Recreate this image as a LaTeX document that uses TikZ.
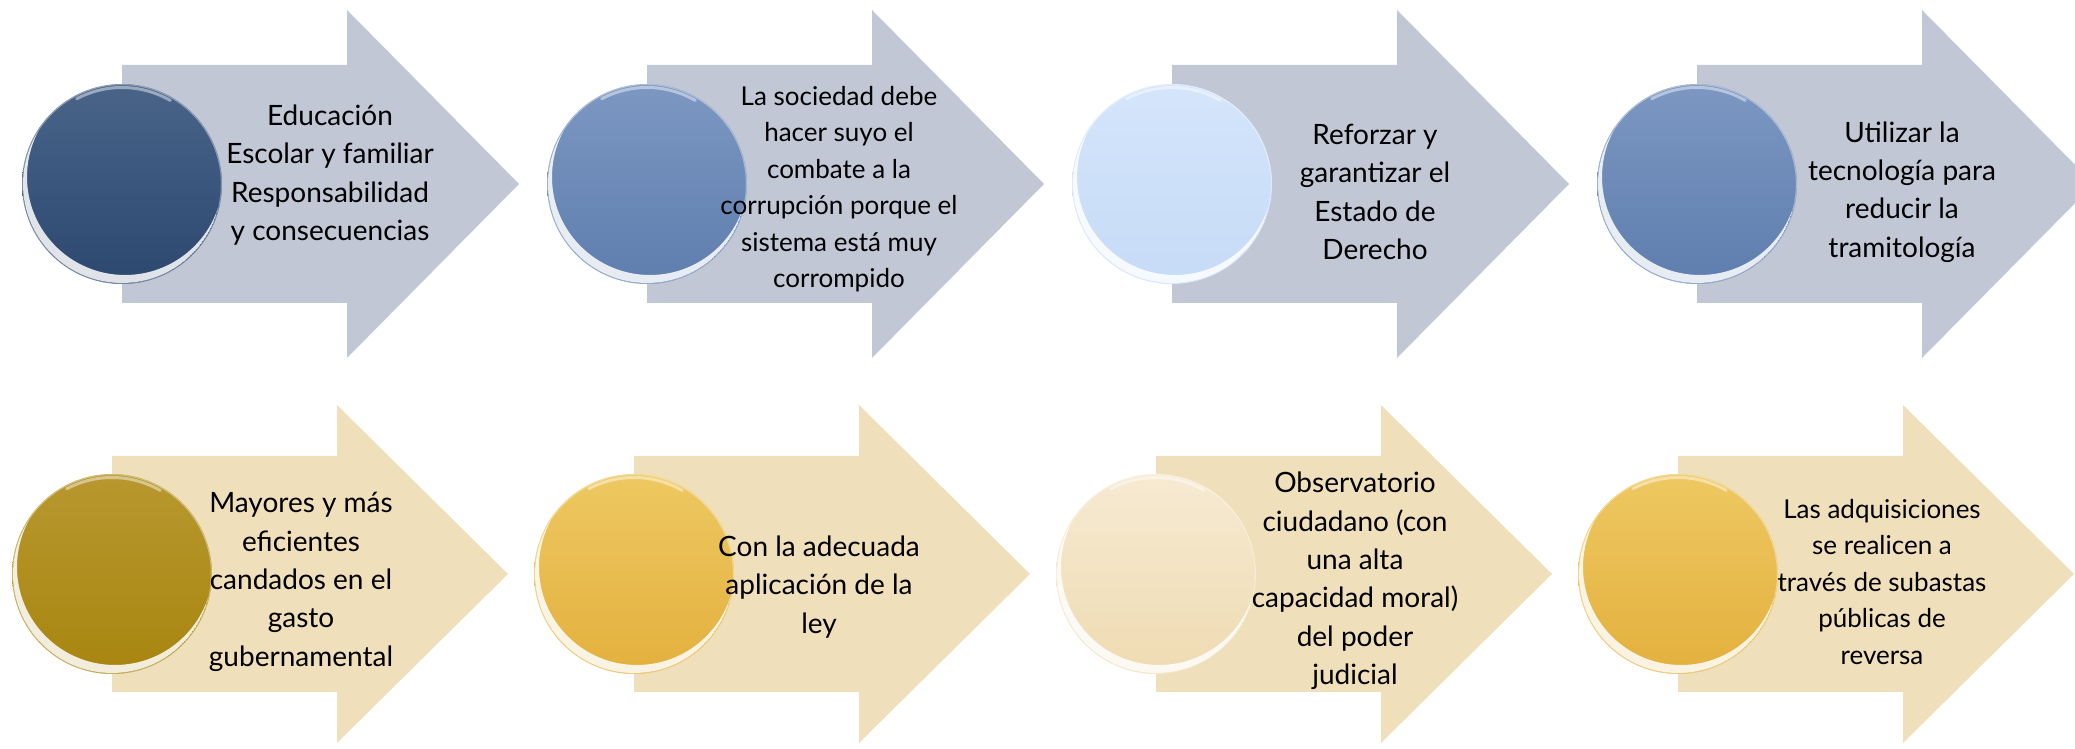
\documentclass[tikz,border=0pt]{standalone}
\usepackage{fontspec}
\setmainfont{Lato}
\definecolor{arrowblue}{HTML}{C1C7D5}
\definecolor{arrowsand}{HTML}{F0DFBB}
\definecolor{oneTop}{HTML}{4A6489}
\definecolor{oneBot}{HTML}{2C486F}
\definecolor{twoTop}{HTML}{7C97C2}
\definecolor{twoBot}{HTML}{5E7EAE}
\definecolor{threeTop}{HTML}{D4E5FB}
\definecolor{threeBot}{HTML}{C6DBF7}
\definecolor{fiveTop}{HTML}{B8982F}
\definecolor{fiveBot}{HTML}{A8850F}
\definecolor{sixTop}{HTML}{EEC862}
\definecolor{sixBot}{HTML}{E3B03D}
\definecolor{sevenTop}{HTML}{F6EAD2}
\definecolor{sevenBot}{HTML}{EFDBB2}
\tikzset{
  orb/.style 2 args={circle, inner sep=0pt, minimum size=200pt, top color=#1, bottom color=#2},
  txt/.style={align=center, text=black, inner sep=0pt},
  bigtxt/.style={txt, font=\fontsize{28}{38.4}\selectfont},
  smalltxt/.style={txt, font=\fontsize{26}{36.5}\selectfont},
  gloss/.style={white, opacity=0.85, even odd rule},
  rim/.style={white, opacity=0.45, line width=3pt, line cap=round},
  edge/.style={white, opacity=0.35, line width=0.8pt}
}
\begin{document}
\begin{tikzpicture}[x=1pt,y=1pt]
\useasboundingbox (0,0) rectangle (2075,749);
\clip (0,0) rectangle (2075,749);
% arrows, row 1
\foreach \cx in {122,647,1172,1697} {
  \fill[arrowblue] (\cx,684) -- (\cx+225,684) -- (\cx+225,739) -- (\cx+397,565)
    -- (\cx+225,391) -- (\cx+225,446) -- (\cx,446) -- cycle;
}
% arrows, row 2
\foreach \cx in {112,634,1156,1678} {
  \fill[arrowsand] (\cx,293) -- (\cx+225,293) -- (\cx+225,344) -- (\cx+396,175)
    -- (\cx+225,6) -- (\cx+225,57) -- (\cx,57) -- cycle;
}
% circles
\node[orb={oneTop}{oneBot}]     (c1) at (122,565) {};
\node[orb={twoTop}{twoBot}]     (c2) at (647,565) {};
\node[orb={threeTop}{threeBot}] (c3) at (1172,565) {};
\node[orb={twoTop}{twoBot}]     (c4) at (1697,565) {};
\node[orb={fiveTop}{fiveBot}]   (c5) at (112,175) {};
\node[orb={sixTop}{sixBot}]     (c6) at (634,175) {};
\node[orb={sevenTop}{sevenBot}] (c7) at (1156,175) {};
\node[orb={sixTop}{sixBot}]     (c8) at (1678,175) {};
\foreach \cn in {c1,c2,c3,c4,c5,c6,c7,c8} {
  \begin{scope}
    \clip (\cn.center) circle[radius=99];
    \fill[gloss] (\cn.center) circle[radius=99]
      ([shift={(3,7)}]\cn.center) circle[radius=98];
  \end{scope}
  \draw[edge] (\cn.center) circle[radius=99.5];
  \draw[rim] ([shift={(60:96.5)}]\cn.center) arc[start angle=60, end angle=118, radius=96.5];
}
% texts
\node[bigtxt]   (t1) at (330,574)  {Educación\\Escolar y familiar\\Responsabilidad\\y consecuencias};
\node[smalltxt] (t2) at (839,560)  {La sociedad debe\\hacer suyo el\\combate a la\\corrupción porque el\\sistema está muy\\corrompido};
\node[bigtxt]   (t3) at (1375,557) {Reforzar y\\garantizar el\\Estado de\\Derecho};
\node[bigtxt]   (t4) at (1902,557) {Utilizar la\\tecnología para\\reducir la\\tramitología};
\node[bigtxt]   (t5) at (301,167)  {Mayores y más\\eficientes\\candados en el\\gasto\\gubernamental};
\node[bigtxt]   (t6) at (819,162)  {Con la adecuada\\aplicación de la\\ley};
\node[bigtxt]   (t7) at (1355,168) {Observatorio\\ciudadano (con\\una alta\\capacidad moral)\\del poder\\judicial};
\node[smalltxt] (t8) at (1882,167) {Las adquisiciones\\se realicen a\\través de subastas\\públicas de\\reversa};
\end{tikzpicture}
\end{document}
